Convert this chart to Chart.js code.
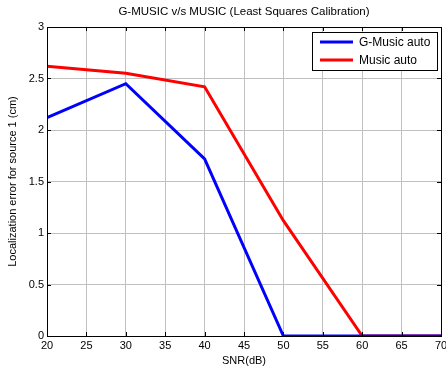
<!DOCTYPE html>
<html>
<head>
<meta charset="utf-8">
<script src="https://cdn.jsdelivr.net/npm/chart.js@4"></script>
<style>
  body { margin: 0; background: #fff; }
  canvas { display: block; }
</style>
</head>
<body>
<canvas id="grafico" width="446" height="368"></canvas>
<script>
const snr = [20, 30, 40, 50, 60, 70];
const gMusic = [2.12, 2.45, 1.72, 0, 0, 0];
const music = [2.62, 2.55, 2.42, 1.12, 0, 0];

const tituloGrafico = 'G-MUSIC v/s MUSIC (Least Squares Calibration)';
const tituloX = 'SNR(dB)';
const tituloY = 'Localization error for source 1 (cm)';

const fonte = '"Liberation Sans", Arial, sans-serif';

function pontos(valores) {
    return snr.map((x, i) => ({ x: x, y: valores[i] }));
}

// caixa preta, marcas para dentro, titulo e legenda
const moldura = {
    id: 'moldura',
    afterDraw(chart) {
        const ctx = chart.ctx;
        const area = chart.chartArea;
        const sx = chart.scales.x;
        const sy = chart.scales.y;
        ctx.save();
        ctx.strokeStyle = '#000';
        ctx.lineWidth = 1;
        ctx.strokeRect(area.left + 0.5, area.top + 0.5, area.right - area.left, area.bottom - area.top);
        ctx.beginPath();
        sx.ticks.forEach(t => {
            const px = Math.round(sx.getPixelForValue(t.value)) + 0.5;
            ctx.moveTo(px, area.bottom);
            ctx.lineTo(px, area.bottom - 4);
            ctx.moveTo(px, area.top);
            ctx.lineTo(px, area.top + 4);
        });
        sy.ticks.forEach(t => {
            const py = Math.round(sy.getPixelForValue(t.value)) + 0.5;
            ctx.moveTo(area.left, py);
            ctx.lineTo(area.left + 4, py);
            ctx.moveTo(area.right, py);
            ctx.lineTo(area.right - 4, py);
        });
        ctx.stroke();

        ctx.fillStyle = '#000';
        ctx.font = '11.5px ' + fonte;
        ctx.textAlign = 'center';
        ctx.textBaseline = 'middle';
        ctx.fillText(tituloGrafico, (area.left + area.right) / 2, 12);

        // legenda
        const lx = 312, ly = 32, lw = 125, lh = 38;
        ctx.fillStyle = '#fff';
        ctx.fillRect(lx, ly, lw, lh);
        ctx.strokeStyle = '#000';
        ctx.strokeRect(lx + 0.5, ly + 0.5, lw, lh);
        ctx.font = '12px ' + fonte;
        ctx.textAlign = 'left';
        chart.data.datasets.forEach((ds, i) => {
            const y = ly + 10 + i * 18;
            ctx.strokeStyle = ds.borderColor;
            ctx.lineWidth = 3;
            ctx.beginPath();
            ctx.moveTo(lx + 8, y);
            ctx.lineTo(lx + 41, y);
            ctx.stroke();
            ctx.fillStyle = '#000';
            ctx.fillText(ds.label, lx + 47, y + 1);
        });
        ctx.restore();
    }
};

const grafico = new Chart(document.getElementById('grafico'), {
    type: 'line',
    data: {
        datasets: [{
            label: 'G-Music auto',
            data: pontos(gMusic),
            borderColor: '#0000ff',
            borderWidth: 3,
            pointRadius: 0,
            tension: 0
        }, {
            label: 'Music auto',
            data: pontos(music),
            borderColor: '#ff0000',
            borderWidth: 3,
            pointRadius: 0,
            tension: 0
        }]
    },
    options: {
        responsive: false,
        animation: false,
        layout: { padding: { top: 27, right: 5, left: 0, bottom: 0 } },
        plugins: {
            legend: { display: false },
            title: { display: false },
            tooltip: { enabled: false }
        },
        scales: {
            x: {
                type: 'linear',
                min: 20,
                max: 70,
                ticks: { stepSize: 5, color: '#000', padding: 3, maxRotation: 0, font: { family: fonte, size: 11 } },
                grid: { color: '#c0c0c0', drawTicks: false },
                border: { color: '#000' },
                title: { display: true, text: tituloX, color: '#000', padding: { top: 2, bottom: 0 }, font: { family: fonte, size: 11 } },
                afterFit(scale) {
                    scale.height = 32;
                    scale.paddingLeft = 0;
                    scale.paddingRight = 0;
                }
            },
            y: {
                min: 0,
                max: 3,
                ticks: {
                    stepSize: 0.5,
                    color: '#000',
                    padding: 3,
                    font: { family: fonte, size: 11 },
                    callback: (valor) => String(valor)
                },
                grid: { color: '#c0c0c0', drawTicks: false },
                border: { color: '#000' },
                title: { display: true, text: tituloY, color: '#000', padding: { top: 6, bottom: 0 }, font: { family: fonte, size: 11 } },
                afterFit(scale) { scale.width = 47; }
            }
        }
    },
    plugins: [moldura]
});
</script>
</body>
</html>
